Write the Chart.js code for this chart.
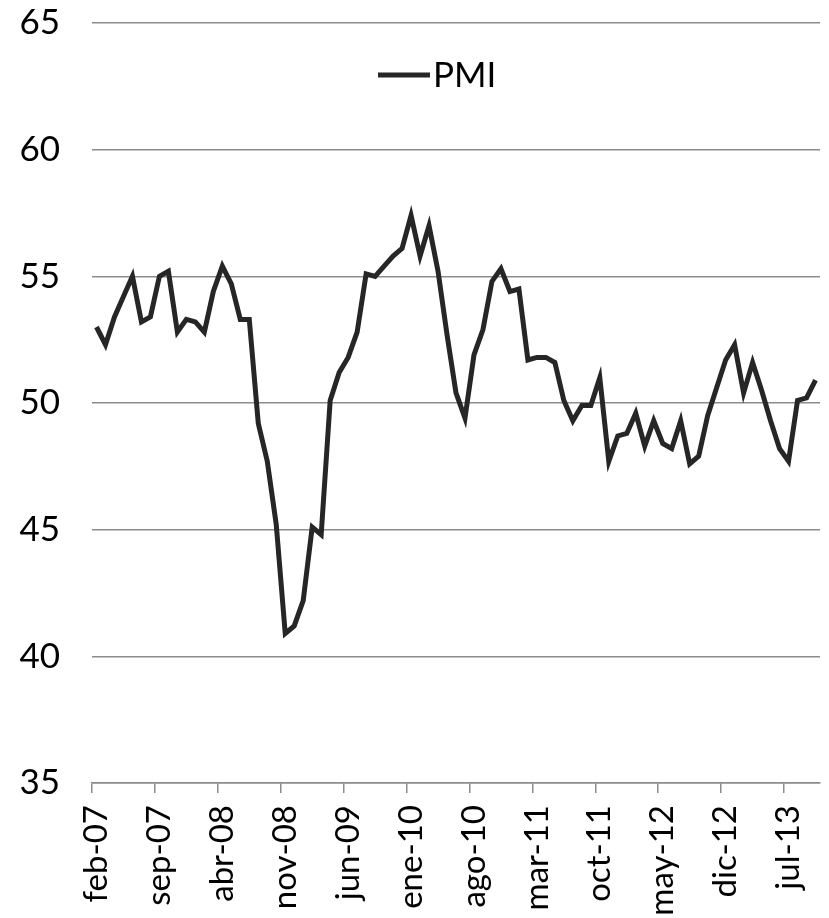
<!DOCTYPE html>
<html>
<head>
<meta charset="utf-8">
<script src="https://cdn.jsdelivr.net/npm/chart.js@4.4.1/dist/chart.umd.min.js"></script>
<style>
  html, body { margin: 0; padding: 0; background: #fff; }
</style>
</head>
<body>
<canvas id="myChart" width="829" height="918"></canvas>
<script>
// month names and first month of the series (feb-07)
let monthNames = ['ene', 'feb', 'mar', 'abr', 'may', 'jun', 'jul', 'ago', 'sep', 'oct', 'nov', 'dic'];
let startMonth = 1;   // feb
let startYear = 7;    // 2007

// PMI, monthly, feb-07 .. oct-13
let pmi = [53.0, 52.3, 53.4, 54.2, 55.0, 53.2, 53.4, 55.0, 55.2, 52.8,
           53.3, 53.2, 52.8, 54.4, 55.4, 54.7, 53.3, 53.3, 49.2, 47.7,
           45.2, 40.9, 41.2, 42.2, 45.1, 44.8, 50.1, 51.2, 51.8, 52.8,
           55.1, 55.0, 55.4, 55.8, 56.1, 57.4, 55.8, 57.0, 55.2, 52.7,
           50.4, 49.4, 51.9, 52.9, 54.8, 55.3, 54.4, 54.5, 51.7, 51.8,
           51.8, 51.6, 50.1, 49.3, 49.9, 49.9, 51.0, 47.7, 48.7, 48.8,
           49.6, 48.3, 49.3, 48.4, 48.2, 49.3, 47.6, 47.9, 49.5, 50.6,
           51.7, 52.3, 50.4, 51.6, 50.5, 49.3, 48.2, 47.7, 50.1, 50.2,
           50.9];

// y axis ticks
let yMin = 35, yMax = 65, yStep = 5;
// every 7th month gets a label
let labelEvery = 7;

let labels = pmi.map(function (v, i) {
    let m = startMonth + i;
    let yy = startYear + Math.floor(m / 12);
    return monthNames[m % 12] + '-' + String(yy).padStart(2, '0');
});

let fontFamily = 'Lato, "Open Sans", sans-serif';
let fontSize = 35;
let gridColor = '#8c8c8c';

// legend drawn inside the plot, like the original
const legendInArea = {
    id: 'legendInArea',
    afterDraw(chart) {
        let ctx = chart.ctx;
        let ds = chart.data.datasets[0];
        let area = chart.chartArea;
        let y = area.top + 52;
        let x0 = 378;
        ctx.save();
        ctx.strokeStyle = ds.borderColor;
        ctx.lineWidth = ds.borderWidth;
        ctx.beginPath();
        ctx.moveTo(x0, y);
        ctx.lineTo(x0 + 52, y);
        ctx.stroke();
        ctx.fillStyle = '#000';
        ctx.font = fontSize + 'px ' + fontFamily;
        ctx.textBaseline = 'middle';
        ctx.textAlign = 'left';
        ctx.fillText(ds.label, x0 + 55, y + 1);
        ctx.restore();
    }
};

let chart1 = new Chart(document.getElementById('myChart').getContext('2d'), {
    type: 'line',
    data: {
        labels: labels,
        datasets: [{
            label: 'PMI',
            data: pmi,
            borderColor: '#262626',
            borderWidth: 5,
            pointRadius: 0,
            tension: 0,
            fill: false
        }]
    },
    options: {
        responsive: false,
        animation: false,
        layout: { padding: { top: 23, right: 9, left: 0, bottom: 0 } },
        plugins: {
            legend: { display: false },
            tooltip: { enabled: false }
        },
        scales: {
            x: {
                offset: true,
                border: { display: true, color: gridColor, width: 1.5 },
                grid: {
                    offset: true,
                    drawOnChartArea: false,
                    drawTicks: true,
                    tickLength: 10,
                    lineWidth: 1.5,
                    color: function (c) {
                        return c.index % labelEvery === 0 ? gridColor : 'rgba(0,0,0,0)';
                    }
                },
                ticks: {
                    autoSkip: false,
                    maxRotation: 90,
                    minRotation: 90,
                    padding: 12,
                    color: '#000',
                    font: { family: fontFamily, size: 33 },
                    callback: function (v, i) {
                        return i % labelEvery === 0 ? labels[i] : '';
                    }
                },
                afterFit: function (s) {
                    s.height = 135;
                    s.paddingLeft = 0;
                    s.paddingRight = 0;
                }
            },
            y: {
                min: yMin,
                max: yMax,
                border: { display: false },
                grid: {
                    color: gridColor,
                    lineWidth: 1.5,
                    drawTicks: false
                },
                ticks: {
                    stepSize: yStep,
                    padding: 32,
                    color: '#000',
                    font: { family: fontFamily, size: fontSize }
                },
                afterFit: function (s) {
                    s.width = 92;
                    s.paddingTop = 0;
                    s.paddingBottom = 0;
                }
            }
        }
    },
    plugins: [legendInArea]
});
</script>
</body>
</html>
